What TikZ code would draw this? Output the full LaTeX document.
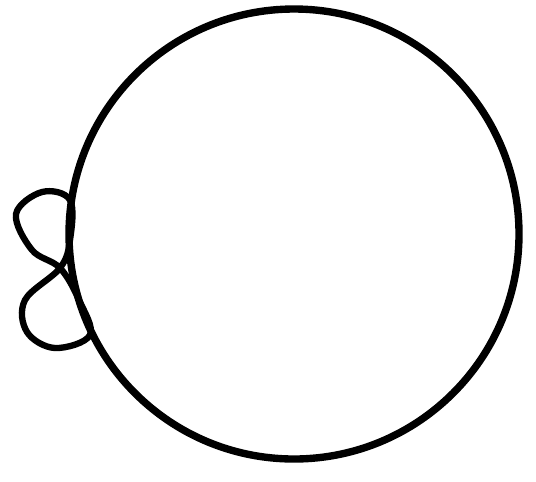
\documentclass[tikz,border=0pt]{standalone}
\usepackage{tikz}
\usetikzlibrary{calc}
\tikzset{
  % Diagram styles
  ring/.style={draw=black, line width=4.2pt},
  bow/.style={draw=black, line width=3.6pt, line join=round},
}
\begin{document}
\begin{tikzpicture}[x=0.02cm, y=-0.02cm]
    % Page frame
    \useasboundingbox (0,0) rectangle (536,481);

    % Big circle
    \coordinate (centre) at (294,234);
    \draw[ring] (centre) circle (225);

    % Crossing point of the figure eight
    \coordinate (cross) at (60,268);

    % Figure eight on the left side
    \draw[bow] plot[smooth cycle, tension=0.6] coordinates {
      (cross) (70,240) (70,200) (42,192) (16,214) (32,250)
      (cross) (79,300) (90,335) (55,348) (27,332) (25,300)
    };
\end{tikzpicture}
\end{document}
